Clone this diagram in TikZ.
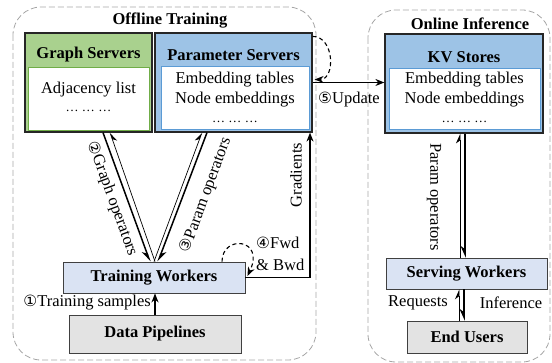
\documentclass[tikz,border=0pt]{standalone}
\usepackage{fontspec}
\setmainfont{Liberation Serif}
\newfontfamily\mainserif{Liberation Serif}
\newfontfamily\circfont{DejaVu Sans}
\usetikzlibrary{arrows.meta}
\newcommand{\cnum}[1]{{\circfont\fontsize{15.5}{15.5}\selectfont #1}}
\newcommand{\basefnt}{\mainserif\fontsize{16.5}{20}\selectfont}
\newcommand{\tripledots}{{\fontsize{13}{13}\selectfont …\hspace{3.5pt}…\hspace{3.5pt}…}}
\definecolor{gsfill}{HTML}{A9D18E}
\definecolor{gsline}{HTML}{70AD47}
\definecolor{psfill}{HTML}{9DC3E6}
\definecolor{psline}{HTML}{5B9BD5}
\definecolor{wkfill}{HTML}{DAE3F3}
\definecolor{dpfill}{HTML}{E3E3E3}
\definecolor{framegray}{HTML}{A6A6A6}
\tikzset{
  region/.style={draw=framegray, dash pattern=on 6pt off 3pt, rounded corners=28pt, line width=0.8pt},
  outerbox/.style={draw=black!85, line width=1.2pt, inner sep=0pt},
  innerbox/.style={fill=white, line width=0.9pt, inner sep=0pt},
  titletext/.style={font=\basefnt\bfseries, inner sep=0pt},
  bodytext/.style={align=center, inner sep=0pt},
  worker/.style={draw=black!75, fill=wkfill, line width=0.9pt, font=\basefnt\bfseries, inner sep=0pt},
  source/.style={draw=black!75, fill=dpfill, line width=0.9pt, font=\basefnt\bfseries, inner sep=0pt},
  heavyR/.style={line width=1.5pt, -{Stealth[harpoon, swap, length=10pt, width=9pt]}},
  heavyL/.style={line width=1.5pt, -{Stealth[harpoon, length=10pt, width=9pt]}},
  lightR/.style={line width=0.7pt, -{Stealth[harpoon, swap, length=9pt, width=8pt]}},
  lightL/.style={line width=0.7pt, -{Stealth[harpoon, length=9pt, width=8pt]}},
  plain/.style={line width=1.2pt, -{Stealth[length=9pt, width=7pt]}},
  loop/.style={line width=1.1pt, dash pattern=on 4pt off 3pt, -{Stealth[length=9pt, width=7pt]}},
  lbl/.style={inner sep=0pt}
}
\begin{document}
\begin{tikzpicture}[x=1pt, y=-1pt, every node/.style={font=\basefnt}]
\useasboundingbox (0,0) rectangle (552,363);
% regions
\draw[region] (13,7) rectangle (316,360);
\draw[region] (368,10) rectangle (550,362);
\node[titletext] (offt) at (170,21) {Offline Training};
\node[titletext] (onlt) at (470,24) {Online Inference};
% Graph servers
\node[outerbox, fill=gsfill, minimum width=127pt, minimum height=99pt] (gs) at (88.5,82.5) {};
\node[innerbox, draw=gsline, minimum width=121pt, minimum height=63pt] (gsi) at (88.5,98.5) {};
\node[titletext] (gst) at (88.5,55) {Graph Servers};
\node[bodytext, font=\mainserif\fontsize{16.5}{18}\selectfont] (gsb) at (88.5,97) {Adjacency list\\\tripledots};
% Parameter servers
\node[outerbox, fill=psfill, minimum width=157pt, minimum height=99pt] (ps) at (233.5,82.5) {};
\node[innerbox, draw=psline, minimum width=148pt, minimum height=63pt] (psi) at (235,97.5) {};
\node[titletext] (pst) at (233.5,55) {Parameter Servers};
\node[bodytext, font=\mainserif\fontsize{16.5}{19.5}\selectfont] (psb) at (235,97.5) {Embedding tables\\Node embeddings\\\tripledots};
% KV stores
\node[outerbox, fill=psfill, minimum width=158pt, minimum height=99pt] (kv) at (464,83.5) {};
\node[innerbox, draw=psline, minimum width=151pt, minimum height=61pt] (kvi) at (464.5,98.5) {};
\node[titletext] (kvt) at (464,57) {KV Stores};
\node[bodytext, font=\mainserif\fontsize{16.5}{19.5}\selectfont] (kvb) at (464.5,97.5) {Embedding tables\\Node embeddings\\\tripledots};
% workers and sources
\node[worker, minimum width=182pt, minimum height=31pt] (tw) at (154,277.5) {Training Workers};
\node[source, minimum width=172pt, minimum height=38pt] (dp) at (155,334) {Data Pipelines};
\node[worker, minimum width=161pt, minimum height=31pt] (sw) at (466.5,273.5) {Serving Workers};
\node[source, minimum width=120pt, minimum height=32pt] (eu) at (467,337) {End Users};
% graph operators
\draw[heavyR] ([xshift=14.5pt]gs.south) -- ([xshift=-4pt]tw.north);
\draw[lightR] ([xshift=1pt]tw.north) -- ([xshift=21.5pt]gs.south);
\node[lbl, rotate=-70] (gol) at (112,199) {\cnum{②}Graph operators};
% param operators
\draw[heavyL] ([xshift=-26.5pt]ps.south) -- ([xshift=4pt]tw.north);
\draw[lightL] ([xshift=0pt]tw.north) -- ([xshift=-31.5pt]ps.south);
\node[lbl, rotate=70] (pol) at (206,195) {\cnum{③}Param operators};
% gradients
\draw[plain] (tw.east) -| ([xshift=76.5pt]ps.south);
\node[lbl, rotate=90] (grl) at (296,175) {Gradients};
% fwd bwd loop
\draw[loop] ([xshift=68pt]tw.north) .. controls +(0,-27) and +(18,-38) .. ([xshift=2pt,yshift=1.5pt]tw.east);
\node[lbl, align=left, anchor=west, font=\mainserif\fontsize{16.5}{22}\selectfont] (fbl) at (256,254) {\cnum{④}Fwd\\\& Bwd};
% update
\draw[loop] ([yshift=-4pt]ps.north east) .. controls +(22,0) and +(21,0) .. ([xshift=2pt,yshift=3pt]ps.east);
\draw[plain] (ps.east) -- (ps.east -| kv.west);
\node[lbl] (upl) at (349,100) {\cnum{⑤}Update};
% training samples
\draw[plain] (dp.north) -- (dp.north |- tw.south);
\node[lbl, anchor=east] (tsl) at (151,303) {\cnum{①}Training samples};
% online param operators
\draw[lightL] ([xshift=-6.5pt]sw.north) -- ([xshift=-4pt]kv.south);
\draw[heavyR] ([xshift=1pt]kv.south) -- ([xshift=-1.5pt]sw.north);
\node[lbl, rotate=-90] (opl) at (434,197) {Param operators};
% requests / inference
\draw[lightL] ([xshift=-8pt]eu.north) -- ([xshift=-7.5pt]sw.south);
\draw[heavyR] ([xshift=-2.5pt]sw.south) -- ([xshift=-3pt]eu.north);
\node[lbl] (rql) at (418,303) {Requests};
\node[lbl] (ifl) at (511,303) {Inference};
\end{tikzpicture}
\end{document}
